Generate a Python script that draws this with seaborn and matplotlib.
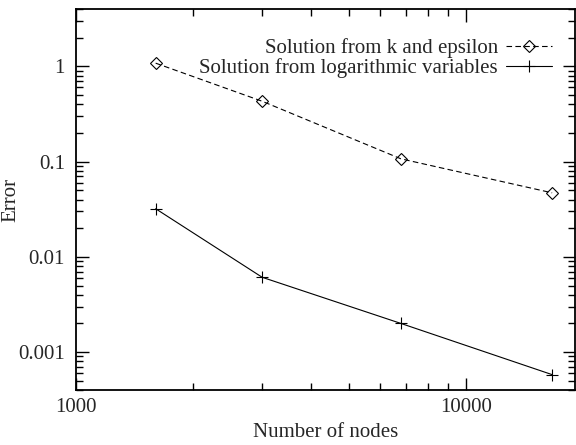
import numpy as np
import pandas as pd
import matplotlib
matplotlib.use("Agg")
import matplotlib.pyplot as plt
import seaborn as sns

# values
nodes = [1600, 3000, 6800, 16600]
err_k_eps = [1.08, 0.43, 0.107, 0.047]
err_log = [0.032, 0.0061, 0.0020, 0.00058]
labels = ["Solution from k and epsilon", "Solution from logarithmic variables"]

sns.set_style("ticks")
plt.rcParams['font.family'] = ['Liberation Serif', 'DejaVu Serif']
plt.rcParams['font.size'] = 15

fig = plt.figure(figsize=(5.76, 4.45), dpi=100)
ax = fig.add_axes([76/576, 1 - 390/445, 499/576, 381/445])

df1 = pd.DataFrame({"nodes": nodes, "err": err_k_eps})
df2 = pd.DataFrame({"nodes": nodes, "err": err_log})

sns.lineplot(data=df1, x="nodes", y="err", ax=ax, color="black", lw=0.8,
             linestyle=(0, (5, 3)), marker="D", markersize=6,
             markerfacecolor="none", markeredgecolor="black", markeredgewidth=0.8,
             label=labels[0])
sns.lineplot(data=df2, x="nodes", y="err", ax=ax, color="black", lw=0.8,
             marker="+", markersize=9, markeredgewidth=0.8,
             markeredgecolor="black",
             label=labels[1])

ax.set_xscale("log")
ax.set_yscale("log")
ax.set_xlim(1000, 19000)
ax.set_ylim(4e-4, 4)

ax.set_xticks([1000, 10000])
ax.set_xticklabels(["1000", "10000"])
ax.set_yticks([0.001, 0.01, 0.1, 1])
ax.set_yticklabels(["0.001", "0.01", "0.1", "1"])

ax.tick_params(which="both", direction="in", top=True, right=True, color="black")
ax.tick_params(which="major", length=9, width=1, labelsize=15)
ax.tick_params(axis="x", which="major", pad=6)
ax.tick_params(axis="y", which="major", pad=8)
ax.tick_params(which="minor", length=5, width=1)
for s in ax.spines.values():
    s.set_linewidth(1.3)
    s.set_color("black")

ax.set_xlabel("Number of nodes", fontsize=15, labelpad=4)
ax.set_ylabel("Error", fontsize=15)
ax.yaxis.set_label_coords(-0.112, 0.5)

ax.legend(loc="upper right", bbox_to_anchor=(0.975, 0.95), frameon=False,
          markerfirst=False, handlelength=2.2, handletextpad=0.4,
          labelspacing=0.0, borderpad=0, fontsize=15)

plt.savefig("out.png", dpi=100)
plt.close()
